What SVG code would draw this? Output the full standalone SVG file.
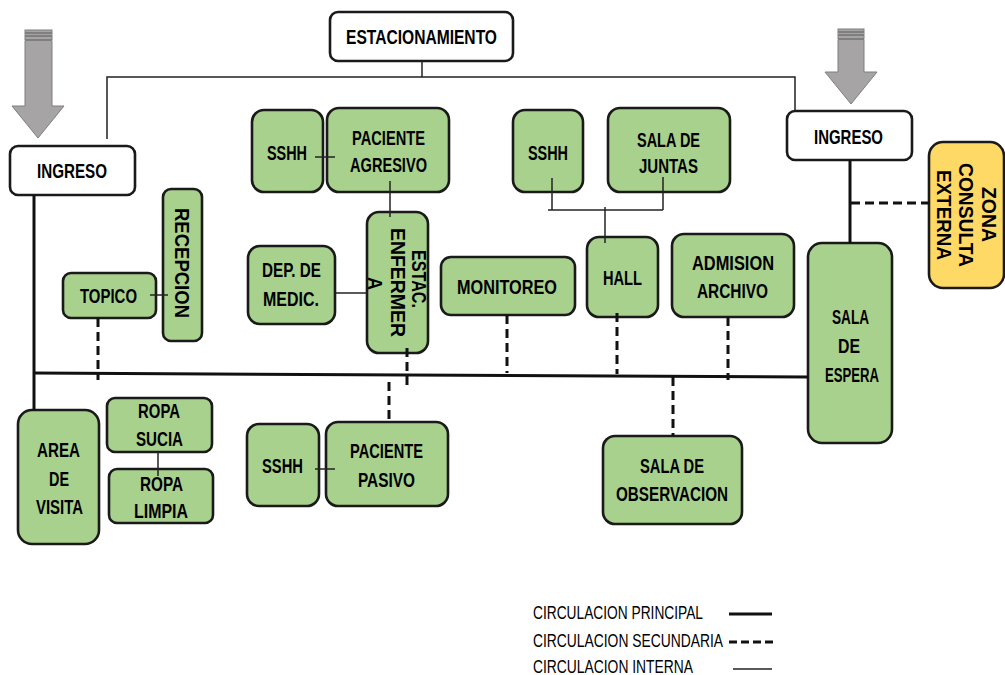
<svg xmlns="http://www.w3.org/2000/svg" width="1005" height="675" viewBox="0 0 1005 675">
  <style>
    .g { fill: #A9D18E; stroke: #1a1a1a; stroke-width: 2.6; }
    .w { fill: #ffffff; stroke: #1a1a1a; stroke-width: 2.6; }
    .y { fill: #FFD966; stroke: #1a1a1a; stroke-width: 2.6; }
    .t { font-family: "Liberation Sans", Arial, sans-serif; font-weight: bold; font-size: 21px; fill: #000; }
    .lg { font-family: "Liberation Sans", Arial, sans-serif; font-size: 18px; fill: #000; }
    .main { stroke: #111; stroke-width: 3; fill: none; }
    .sec { stroke: #111; stroke-width: 3; fill: none; stroke-dasharray: 9 5; }
    .int { stroke: #222; stroke-width: 1.5; fill: none; }
    .arrow { fill: #A6A4A4; stroke: #7f7f7f; stroke-width: 1; }
  </style>

  <!-- entry arrows -->
  <g id="arrow-left">
    <rect class="arrow" x="25" y="30" width="27" height="2.5"/>
    <rect class="arrow" x="25" y="33.5" width="27" height="2"/>
    <rect class="arrow" x="25" y="36.5" width="27" height="3"/>
    <polygon class="arrow" points="25,40.5 52,40.5 52,106 64,106 38,138 12,106 25,106"/>
  </g>
  <g id="arrow-right">
    <rect class="arrow" x="838" y="29" width="26" height="2.5"/>
    <rect class="arrow" x="838" y="32.5" width="26" height="2"/>
    <rect class="arrow" x="838" y="35.5" width="26" height="3"/>
    <polygon class="arrow" points="838,39.5 864,39.5 864,72 877,72 851,104 825,72 838,72"/>
  </g>

  <!-- rooms -->
  <g id="estacionamiento">
    <rect class="w" x="330" y="12" width="183" height="49" rx="8"/>
    <text class="t" x="346" y="44" textLength="151" lengthAdjust="spacingAndGlyphs">ESTACIONAMIENTO</text>
  </g>
  <g id="ingreso-izq">
    <rect class="w" x="10" y="146" width="125" height="49" rx="8"/>
    <text class="t" x="37" y="178" textLength="70" lengthAdjust="spacingAndGlyphs">INGRESO</text>
  </g>
  <g id="ingreso-der">
    <rect class="w" x="787" y="111" width="125" height="49" rx="8"/>
    <text class="t" x="814" y="144" textLength="69" lengthAdjust="spacingAndGlyphs">INGRESO</text>
  </g>
  <g id="sshh-1">
    <rect class="g" x="252" y="110" width="71" height="82" rx="12"/>
    <text class="t" x="267" y="160" textLength="40" lengthAdjust="spacingAndGlyphs">SSHH</text>
  </g>
  <g id="paciente-agresivo">
    <rect class="g" x="327" y="108" width="122" height="84" rx="12"/>
    <text class="t" x="352" y="145" textLength="73" lengthAdjust="spacingAndGlyphs">PACIENTE</text>
    <text class="t" x="350" y="172" textLength="77" lengthAdjust="spacingAndGlyphs">AGRESIVO</text>
  </g>
  <g id="sshh-2">
    <rect class="g" x="513" y="110" width="70" height="82" rx="12"/>
    <text class="t" x="528" y="160" textLength="40" lengthAdjust="spacingAndGlyphs">SSHH</text>
  </g>
  <g id="sala-juntas">
    <rect class="g" x="608" y="108" width="122" height="84" rx="12"/>
    <text class="t" x="637" y="147" textLength="63" lengthAdjust="spacingAndGlyphs">SALA DE</text>
    <text class="t" x="639" y="173" textLength="59" lengthAdjust="spacingAndGlyphs">JUNTAS</text>
  </g>
  <g id="recepcion">
    <rect class="g" x="163" y="189" width="39" height="152" rx="8"/>
    <text class="t" transform="rotate(90)" x="208" y="-175" textLength="110" lengthAdjust="spacingAndGlyphs">RECEPCION</text>
  </g>
  <g id="topico">
    <rect class="g" x="63" y="273" width="93" height="45" rx="8"/>
    <text class="t" x="80" y="303" textLength="57" lengthAdjust="spacingAndGlyphs">TOPICO</text>
  </g>
  <g id="dep-medic">
    <rect class="g" x="248" y="246" width="87" height="78" rx="12"/>
    <text class="t" x="262" y="277" textLength="59" lengthAdjust="spacingAndGlyphs">DEP. DE</text>
    <text class="t" x="263" y="306" textLength="56" lengthAdjust="spacingAndGlyphs">MEDIC.</text>
  </g>
  <g id="estac-enfermeria">
    <rect class="g" x="367" y="212" width="61" height="141" rx="12"/>
    <text class="t" transform="rotate(90)" x="250" y="-412" textLength="58" lengthAdjust="spacingAndGlyphs">ESTAC.</text>
    <text class="t" transform="rotate(90)" x="228" y="-391" textLength="109" lengthAdjust="spacingAndGlyphs">ENFERMER</text>
    <text class="t" transform="rotate(90)" x="277" y="-368" textLength="13" lengthAdjust="spacingAndGlyphs">A</text>
  </g>
  <g id="monitoreo">
    <rect class="g" x="441" y="257" width="134" height="58" rx="10"/>
    <text class="t" x="457" y="294" textLength="100" lengthAdjust="spacingAndGlyphs">MONITOREO</text>
  </g>
  <g id="hall">
    <rect class="g" x="587" y="237" width="71" height="80" rx="12"/>
    <text class="t" x="603" y="285" textLength="39" lengthAdjust="spacingAndGlyphs">HALL</text>
  </g>
  <g id="admision">
    <rect class="g" x="672" y="234" width="122" height="83" rx="12"/>
    <text class="t" x="692" y="270" textLength="82" lengthAdjust="spacingAndGlyphs">ADMISION</text>
    <text class="t" x="697" y="298" textLength="71" lengthAdjust="spacingAndGlyphs">ARCHIVO</text>
  </g>
  <g id="sala-espera">
    <rect class="g" x="808" y="243" width="84" height="200" rx="14"/>
    <text class="t" x="832" y="324" textLength="37" lengthAdjust="spacingAndGlyphs">SALA</text>
    <text class="t" x="838" y="353" textLength="22" lengthAdjust="spacingAndGlyphs">DE</text>
    <text class="t" x="825" y="382" textLength="54" lengthAdjust="spacingAndGlyphs">ESPERA</text>
  </g>
  <g id="consulta-externa">
    <rect class="y" x="929" y="142" width="75" height="146" rx="14"/>
    <text class="t" transform="rotate(90)" x="187" y="-982" textLength="55" lengthAdjust="spacingAndGlyphs">ZONA</text>
    <text class="t" transform="rotate(90)" x="163" y="-959" textLength="104" lengthAdjust="spacingAndGlyphs">CONSULTA</text>
    <text class="t" transform="rotate(90)" x="170" y="-937" textLength="90" lengthAdjust="spacingAndGlyphs">EXTERNA</text>
  </g>
  <g id="area-visita">
    <rect class="g" x="18" y="410" width="81" height="134" rx="14"/>
    <text class="t" x="37" y="457" textLength="43" lengthAdjust="spacingAndGlyphs">AREA</text>
    <text class="t" x="49" y="486" textLength="20" lengthAdjust="spacingAndGlyphs">DE</text>
    <text class="t" x="36" y="514" textLength="47" lengthAdjust="spacingAndGlyphs">VISITA</text>
  </g>
  <g id="ropa-sucia">
    <rect class="g" x="107" y="398" width="105" height="54" rx="8"/>
    <text class="t" x="138" y="418" textLength="42" lengthAdjust="spacingAndGlyphs">ROPA</text>
    <text class="t" x="136" y="446" textLength="47" lengthAdjust="spacingAndGlyphs">SUCIA</text>
  </g>
  <g id="ropa-limpia">
    <rect class="g" x="109" y="469" width="104" height="54" rx="8"/>
    <text class="t" x="140" y="491" textLength="43" lengthAdjust="spacingAndGlyphs">ROPA</text>
    <text class="t" x="134" y="518" textLength="54" lengthAdjust="spacingAndGlyphs">LIMPIA</text>
  </g>
  <g id="sshh-3">
    <rect class="g" x="247" y="424" width="72" height="82" rx="12"/>
    <text class="t" x="262" y="473" textLength="41" lengthAdjust="spacingAndGlyphs">SSHH</text>
  </g>
  <g id="paciente-pasivo">
    <rect class="g" x="326" y="422" width="122" height="84" rx="12"/>
    <text class="t" x="350" y="458" textLength="73" lengthAdjust="spacingAndGlyphs">PACIENTE</text>
    <text class="t" x="358" y="487" textLength="57" lengthAdjust="spacingAndGlyphs">PASIVO</text>
  </g>
  <g id="sala-observacion">
    <rect class="g" x="603" y="436" width="139" height="88" rx="12"/>
    <text class="t" x="640" y="473" textLength="64" lengthAdjust="spacingAndGlyphs">SALA DE</text>
    <text class="t" x="616" y="501" textLength="112" lengthAdjust="spacingAndGlyphs">OBSERVACION</text>
  </g>

  <!-- circulation lines -->
  <g id="connectors">
    <!-- principal -->
    <line class="main" x1="34" y1="195" x2="34" y2="410"/>
    <line class="main" x1="33" y1="373" x2="808" y2="377"/>
    <line class="main" x1="850" y1="160" x2="850" y2="243"/>
    <!-- secundaria -->
    <line class="sec" x1="98" y1="318" x2="98" y2="380"/>
    <line class="sec" x1="407" y1="348" x2="407" y2="389"/>
    <line class="sec" x1="389" y1="382" x2="389" y2="422"/>
    <line class="sec" x1="507" y1="315" x2="507" y2="373"/>
    <line class="sec" x1="617" y1="313" x2="617" y2="374"/>
    <line class="sec" x1="728" y1="317" x2="728" y2="380"/>
    <line class="sec" x1="673" y1="377" x2="673" y2="436"/>
    <line class="sec" x1="851" y1="203" x2="929" y2="203"/>
    <!-- interna -->
    <polyline class="int" points="107,139 107,77 795,77 795,110"/>
    <line class="int" x1="422" y1="61" x2="422" y2="77"/>
    <line class="int" x1="315" y1="157" x2="335" y2="157"/>
    <line class="int" x1="390" y1="181" x2="390" y2="217"/>
    <line class="int" x1="335" y1="293" x2="367" y2="293"/>
    <line class="int" x1="150" y1="295" x2="168" y2="295"/>
    <polyline class="int" points="552,178 552,210"/>
    <line class="int" x1="548" y1="210" x2="663" y2="210"/>
    <line class="int" x1="663" y1="177" x2="663" y2="210"/>
    <line class="int" x1="605" y1="207" x2="605" y2="243"/>
    <line class="int" x1="158" y1="452" x2="158" y2="476"/>
    <line class="int" x1="315" y1="469" x2="335" y2="469"/>
  </g>

  <!-- legend -->
  <g id="legend">
    <text class="lg" x="533" y="619" textLength="170" lengthAdjust="spacingAndGlyphs">CIRCULACION PRINCIPAL</text>
    <text class="lg" x="533" y="647" textLength="190" lengthAdjust="spacingAndGlyphs">CIRCULACION SECUNDARIA</text>
    <text class="lg" x="533" y="673" textLength="160" lengthAdjust="spacingAndGlyphs">CIRCULACION INTERNA</text>
    <line class="main" x1="729" y1="614" x2="772" y2="614"/>
    <line class="sec" x1="729" y1="642" x2="775" y2="642" style="stroke-dasharray: 8 4"/>
    <line class="int" x1="733" y1="669" x2="772" y2="669"/>
  </g>
</svg>
